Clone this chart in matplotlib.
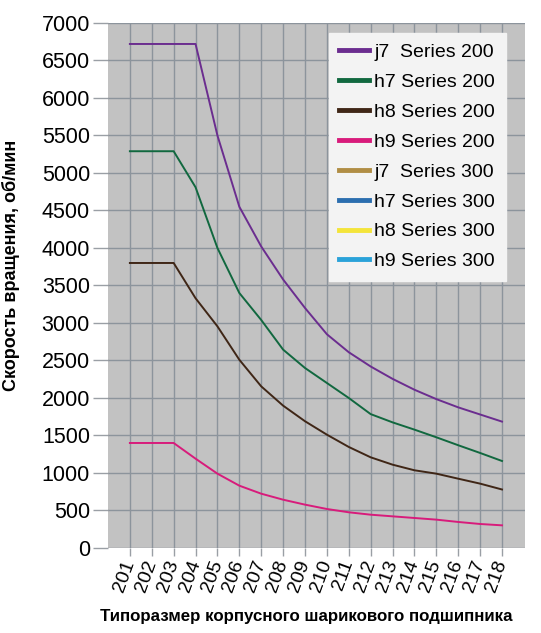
import matplotlib.pyplot as plt

plt.rcParams['font.family'] = ['Liberation Sans', 'DejaVu Sans']

# типоразмеры подшипников
sizes = list(range(201, 219))

# скорость вращения, об/мин (серия 200)
j7_200 = [6720, 6720, 6720, 6720, 5500, 4550, 4020, 3580, 3200, 2850,
          2610, 2420, 2255, 2110, 1985, 1875, 1780, 1685]
h7_200 = [5290, 5290, 5290, 4810, 4000, 3400, 3040, 2645, 2400, 2200,
          2000, 1785, 1675, 1578, 1476, 1370, 1267, 1160]
h8_200 = [3800, 3800, 3800, 3330, 2955, 2510, 2155, 1898, 1690, 1511,
          1347, 1209, 1111, 1036, 991, 924, 858, 780]
h9_200 = [1400, 1400, 1400, 1191, 991, 831, 724, 644, 578, 520,
          476, 444, 422, 400, 378, 347, 320, 302]

# серия 300 на графике не нарисована, есть только в легенде
j7_300, h7_300, h8_300, h9_300 = [], [], [], []

series = [
    ('j7  Series 200', j7_200, '#6b2d8f'),
    ('h7 Series 200', h7_200, '#11683f'),
    ('h8 Series 200', h8_200, '#3f2616'),
    ('h9 Series 200', h9_200, '#d81b7b'),
    ('j7  Series 300', j7_300, '#b08d44'),
    ('h7 Series 300', h7_300, '#2b6eaf'),
    ('h8 Series 300', h8_300, '#f4e43a'),
    ('h9 Series 300', h9_300, '#2aa2d9'),
]

fig = plt.figure(figsize=(5.41, 6.33), dpi=100)
ax = fig.add_axes([0.1996, 0.1343, 0.7708, 0.8294])
ax.set_facecolor('#c2c2c2')

for label, vals, color in series:
    ax.plot(sizes[:len(vals)], vals, color=color, lw=1.4, label=label)

ax.set_xlim(200, 219.05)
ax.set_ylim(0, 7000)
ax.set_xticks(sizes)
ax.set_xticklabels([str(s) for s in sizes], rotation=70, ha='right',
                   va='center', rotation_mode='anchor', fontsize=14)
ax.set_yticks(range(0, 7001, 500))
ax.tick_params(axis='y', length=11, width=1, color='#9a9fa5', labelsize=15.5, pad=2)
ax.tick_params(axis='x', length=6, width=1, color='#9a9fa5', pad=3)
ax.grid(True, color='#8c949c', lw=1)
ax.set_axisbelow(True)
for sp in ax.spines.values():
    sp.set_visible(False)

ax.set_ylabel('Скорость вращения, об/мин', fontsize=13, fontweight='bold')
ax.yaxis.set_label_coords(-0.211, 0.539)
ax.set_xlabel('Типоразмер корпусного шарикового подшипника', fontsize=12.2,
              fontweight='bold')
ax.xaxis.set_label_coords(0.475, -0.117)

leg = ax.legend(loc='upper right', bbox_to_anchor=(0.954, 0.981), borderaxespad=0,
                fontsize=14, frameon=True, fancybox=False, handlelength=1.5,
                handletextpad=0.3, labelspacing=0.63, borderpad=0.55)
leg.get_frame().set_facecolor('#f3f3f3')
leg.get_frame().set_edgecolor('#f3f3f3')
leg.get_frame().set_alpha(1)
for h in leg.get_lines():
    h.set_linewidth(3.5)

fig.savefig('out.png', dpi=100)
